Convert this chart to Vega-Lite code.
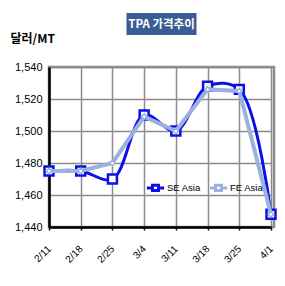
{
  "$schema": "https://vega.github.io/schema/vega-lite/v6.json",
  "padding": {"left": 8, "top": 13, "right": 10, "bottom": 5},
  "background": "white",
  "bounds": "flush",
  "center": true,
  "spacing": 32,
  "config": {"font": "Liberation Sans"},
  "vconcat": [
    {
      "width": 70,
      "height": 22,
      "view": {"fill": "#3B5C94", "stroke": null},
      "data": {"values": [{"t": "TPA 가격추이"}]},
      "mark": {"type": "text", "color": "white", "font": "Noto Sans CJK KR", "fontWeight": "bold", "fontSize": 11.5, "baseline": "middle", "align": "center", "dy": 1},
      "encoding": {"text": {"field": "t"}}
    },
    {
      "width": 225,
      "height": 160,
      "view": {"stroke": "#8c8c8c", "strokeWidth": 2.5},
      "data": {"values": [
        {"date": "2/11", "series": "SE Asia", "value": 1475},
        {"date": "2/18", "series": "SE Asia", "value": 1475},
        {"date": "2/25", "series": "SE Asia", "value": 1470},
        {"date": "3/4", "series": "SE Asia", "value": 1510},
        {"date": "3/11", "series": "SE Asia", "value": 1500},
        {"date": "3/18", "series": "SE Asia", "value": 1528},
        {"date": "3/25", "series": "SE Asia", "value": 1526},
        {"date": "4/1", "series": "SE Asia", "value": 1448},
        {"date": "2/11", "series": "FE Asia", "value": 1475},
        {"date": "2/18", "series": "FE Asia", "value": 1475},
        {"date": "2/25", "series": "FE Asia", "value": 1480},
        {"date": "3/4", "series": "FE Asia", "value": 1509},
        {"date": "3/11", "series": "FE Asia", "value": 1500},
        {"date": "3/18", "series": "FE Asia", "value": 1526},
        {"date": "3/25", "series": "FE Asia", "value": 1525},
        {"date": "4/1", "series": "FE Asia", "value": 1448}
      ]},
      "encoding": {
        "x": {
          "field": "date", "type": "ordinal", "sort": null,
          "scale": {"type": "point", "padding": 0, "range": [0, 222]},
          "axis": {"title": null, "labelAngle": -45, "labelAlign": "right", "labelBaseline": "middle", "labelPadding": 17, "labelDx": 5, "labelFontSize": 10, "labelColor": "black", "domainColor": "black", "domainWidth": 2.5, "ticks": true, "tickSize": 3, "tickColor": "black", "tickWidth": 1.5, "grid": true, "gridColor": "#8c8c8c", "gridWidth": 1.5}
        },
        "y": {
          "field": "value", "type": "quantitative",
          "scale": {"domain": [1440, 1540], "nice": false, "zero": false},
          "axis": {"title": "달러/MT", "titleAngle": 0, "titleX": -39, "titleY": -29, "titleAlign": "left", "titleBaseline": "middle", "titleFont": "Noto Sans CJK KR", "titleFontSize": 12, "titleFontWeight": "bold", "titleColor": "black", "values": [1440, 1460, 1480, 1500, 1520, 1540], "format": ",d", "labelFontSize": 11, "labelColor": "black", "labelPadding": 7, "ticks": false, "domainColor": "black", "domainWidth": 2.5, "grid": true, "gridColor": "#8c8c8c", "gridWidth": 1.5}
        },
        "color": {
          "field": "series", "type": "nominal",
          "scale": {"domain": ["SE Asia", "FE Asia"], "range": ["#0a10e6", "#9bb1e0"]},
          "legend": {"title": null, "orient": "none", "legendX": 96, "legendY": 164, "direction": "horizontal", "labelFontSize": 9.5, "labelColor": "black", "symbolType": "M-1,0H-0.35M0.35,0H1M-0.35,-0.3H0.35V0.3H-0.35Z", "symbolSize": 300, "symbolStrokeWidth": 3, "symbolFillColor": "white", "labelOffset": 1, "columnPadding": 2}
        }
      },
      "layer": [
        {
          "transform": [{"filter": "datum.series == 'SE Asia'"}],
          "mark": {"type": "line", "interpolate": "catmull-rom", "strokeWidth": 3}
        },
        {
          "transform": [{"filter": "datum.series == 'SE Asia'"}],
          "mark": {"type": "point", "shape": "square", "filled": false, "fill": "white", "size": 80, "strokeWidth": 2.5, "opacity": 1}
        },
        {
          "transform": [{"filter": "datum.series == 'FE Asia'"}],
          "mark": {"type": "line", "strokeWidth": 4}
        },
        {
          "transform": [{"filter": "datum.series == 'FE Asia'"}],
          "mark": {"type": "point", "shape": "diamond", "filled": false, "fill": "white", "size": 30, "strokeWidth": 1.5, "opacity": 1}
        }
      ]
    }
  ]
}
